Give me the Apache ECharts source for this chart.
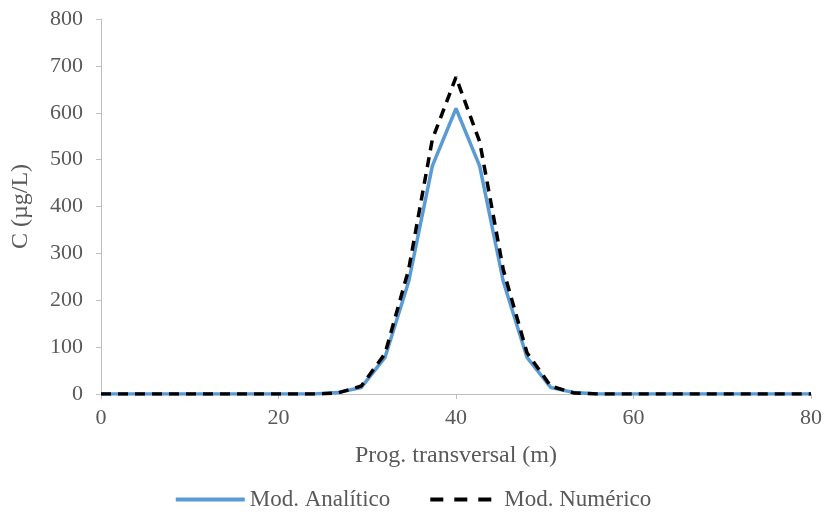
<!DOCTYPE html>
<html>
<head>
<meta charset="utf-8">
<script src="https://cdn.jsdelivr.net/npm/echarts@6/dist/echarts.min.js"></script>
<style>html,body{margin:0;padding:0;background:#fff;}#c{width:825px;height:512px;}</style>
</head>
<body>
<div id="c"></div>
<script>
// Distance along the transect (m)
const xs = [0, 2.67, 5.33, 8, 10.67, 13.33, 16, 18.67, 21.33, 24,
            26.67, 29.33, 32, 34.67, 37.33, 40, 42.67, 45.33, 48, 50.67, 53.33,
            56, 58.67, 61.33, 64, 66.67, 69.33, 72, 74.67, 77.33, 80];
// Analytical model concentration (µg/L)
const analitico = [0, 0, 0, 0, 0, 0, 0, 0, 0, 0,
                   3, 14, 78, 240, 486, 609, 486, 240, 78, 14, 3,
                   0, 0, 0, 0, 0, 0, 0, 0, 0, 0];
// Numerical model concentration (µg/L)
const numerico = [0, 0, 0, 0, 0, 0, 0, 0, 0, 0,
                  2, 17, 86, 266, 543, 676, 538, 265, 88, 17, 2,
                  0, 0, 0, 0, 0, 0, 0, 0, 0, 0];
const seriesNames = ['Mod. Analítico', 'Mod. Numérico'];
const xTitle = 'Prog. transversal (m)';
const yTitle = 'C (µg/L)';

const FONT = "'Liberation Serif', 'Times New Roman', serif";
const TXT = '#595959';
const AX = '#bfbfbf';

const chart = echarts.init(document.getElementById('c'), null, {renderer: 'canvas'});
chart.setOption({
  animation: false,
  backgroundColor: '#ffffff',
  grid: {left: 101, right: 14, top: 19, bottom: 118, containLabel: false},
  legend: {
    top: 483,
    left: 'center',
    itemWidth: 69,
    itemHeight: 14,
    itemGap: 38,
    itemStyle: {opacity: 0},
    textStyle: {fontFamily: FONT, fontSize: 23, color: TXT},
    data: [
      {name: seriesNames[0], lineStyle: {width: 4, color: '#5b9bd5'}},
      {name: seriesNames[1], lineStyle: {width: 4, color: '#000000', type: [13, 11]}}
    ]
  },
  xAxis: {
    type: 'value',
    min: 0, max: 80, interval: 20,
    name: xTitle,
    nameLocation: 'middle',
    nameGap: 50,
    nameTextStyle: {fontFamily: FONT, fontSize: 24, color: TXT},
    axisLine: {show: true, lineStyle: {color: AX, width: 1}},
    axisTick: {show: true, inside: false, length: 5, lineStyle: {color: AX}},
    axisLabel: {fontFamily: FONT, fontSize: 22, color: TXT, margin: 13},
    splitLine: {show: false}
  },
  yAxis: {
    type: 'value',
    min: 0, max: 800, interval: 100,
    name: yTitle,
    nameLocation: 'middle',
    nameGap: 68,
    nameRotate: 90,
    nameTextStyle: {fontFamily: FONT, fontSize: 24, color: TXT},
    axisLine: {show: true, lineStyle: {color: AX, width: 1}},
    axisTick: {show: true, inside: false, length: 5, lineStyle: {color: AX}},
    axisLabel: {fontFamily: FONT, fontSize: 22, color: TXT, margin: 18},
    splitLine: {show: false}
  },
  series: [
    {
      name: seriesNames[0],
      type: 'line',
      data: xs.map((x, i) => [x, analitico[i]]),
      showSymbol: false,
      symbol: 'none',
      lineStyle: {color: '#5b9bd5', width: 3.5},
      itemStyle: {color: '#5b9bd5'},
      z: 2
    },
    {
      name: seriesNames[1],
      type: 'line',
      data: xs.map((x, i) => [x, numerico[i]]),
      showSymbol: false,
      symbol: 'none',
      lineStyle: {color: '#000000', width: 3.5, type: [10, 7]},
      itemStyle: {color: '#000000'},
      z: 3
    }
  ]
});
</script>
</body>
</html>
